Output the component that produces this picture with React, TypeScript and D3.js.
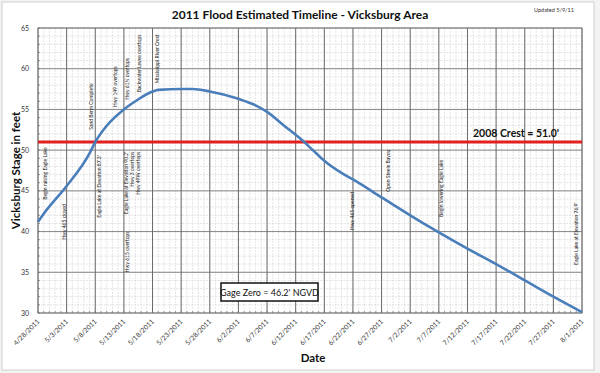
import React from "react";
import * as d3 from "d3";

const W = 600;
const H = 373;
const margin = { top: 28, right: 18, bottom: 60, left: 38 };

// x axis tick labels (every 5 days)
const tickLabels = [
  "4/28/2011", "5/3/2011", "5/8/2011", "5/13/2011", "5/18/2011", "5/23/2011",
  "5/28/2011", "6/2/2011", "6/7/2011", "6/12/2011", "6/17/2011", "6/22/2011",
  "6/27/2011", "7/2/2011", "7/7/2011", "7/12/2011", "7/17/2011", "7/22/2011",
  "7/27/2011", "8/1/2011",
];
const yTicks = [30, 35, 40, 45, 50, 55, 60, 65];

// estimated stage
const stageDates = [
  "4/28/2011", "4/29/2011", "5/3/2011", "5/7/2011", "5/8/2011",
  "5/10/2011", "5/13/2011", "5/15/2011", "5/18/2011", "5/19/2011", "5/23/2011",
  "5/25/2011", "5/28/2011", "6/2/2011", "6/5/2011", "6/7/2011", "6/10/2011",
  "6/13/2011", "6/15/2011", "6/17/2011", "6/20/2011", "6/22/2011", "6/27/2011",
  "7/2/2011", "7/7/2011", "7/12/2011", "7/17/2011", "7/22/2011", "7/27/2011",
  "8/1/2011",
];
const stageFeet = [
  41.2, 42.2, 45.6, 49.6, 51.0,
  53.0, 55.0, 56.0, 57.2, 57.4, 57.5,
  57.5, 57.2, 56.3, 55.5, 54.7, 53.0,
  51.3, 50.0, 48.7, 47.2, 46.4, 44.2,
  42.0, 39.9, 37.9, 36.0, 34.0, 32.0,
  30.1,
];

const crest2008 = 51.0;

// notes: days after 4/28, stage where the text starts (or ends)
const noteText = [
  "Begin raising Eagle Lake", "Hwy 465 closed", "Sand Berm Complete",
  "Eagle Lake at Elevation 87.3'", "Hwy 149 overtops", "Hwy 61N overtops",
  "Backwater Levee overtops", "Mississippi River Crest",
  "Eagle Lake at Elevation 90.2'", "Hwy 3 overtops", "Hwy 49W overtops",
  "Hwy 615 overtops", "Hwy 465 opened", "Open Steele Bayou",
  "Begin lowering Eagle Lake", "Eagle Lake at Elevation 76.9'",
];
const noteDay = [1.66, 4.97, 9.67, 11.07, 13.86, 15.95, 18.04, 21.18, 15.77, 16.82, 17.87, 15.95, 55.17, 61.44, 70.68, 94.4];
const noteStage = [43.9, 39.0, 52.5, 41.7, 55.3, 56.2, 57.1, 58.2, 49.8, 49.8, 49.8, 35.0, 40.2, 44.9, 41.8, 35.9];
const noteFromTop = [false, false, false, false, false, false, false, false, true, true, true, false, false, false, false, false];

const parse = d3.timeParse("%m/%d/%Y");
const font = "Lato, 'Open Sans', sans-serif";

export default function App() {
  const x0 = margin.left;
  const x1 = W - margin.right;
  const y0 = H - margin.bottom;
  const y1 = margin.top;

  const start = parse(tickLabels[0]) as Date;
  const end = parse(tickLabels[tickLabels.length - 1]) as Date;
  const x = d3.scaleTime().domain([start, end]).range([x0, x1]);
  const y = d3.scaleLinear().domain([30, 65]).range([y0, y1]);

  const days = d3.timeDay.range(start, d3.timeDay.offset(end, 1));
  const minorY = d3.range(30, 65.01, 1);

  const pts = stageDates.map((d, i) => [x(parse(d) as Date), y(stageFeet[i])] as [number, number]);
  const line = d3.line().curve(d3.curveMonotoneX)(pts) || "";

  return (
    <svg width={W} height={H} style={{ position: "absolute", left: 0, top: 0, background: "#f3f3f3" }}>
      <rect x={2} y={2} width={592} height={368} fill="#fff" stroke="#cfcfcf" />
      <text x={300} y={19} textAnchor="middle" fontFamily={font} fontWeight="bold" fontSize={12} fill="#111">
        2011 Flood Estimated Timeline - Vicksburg Area
      </text>
      <text x={554} y={12} textAnchor="middle" fontFamily={font} fontSize={5.5} fill="#333">Updated 5/9/11</text>

      {/* minor grid */}
      {days.map((d, i) => (
        <line key={"mv" + i} x1={x(d)} x2={x(d)} y1={y1} y2={y0} stroke="#d4d4d4" strokeWidth={0.6} strokeDasharray="2,1" />
      ))}
      {minorY.map((v) => (
        <line key={"mh" + v} x1={x0} x2={x1} y1={y(v)} y2={y(v)} stroke="#d4d4d4" strokeWidth={0.6} strokeDasharray="2,1" />
      ))}
      {/* major grid */}
      {yTicks.map((v) => (
        <line key={"h" + v} x1={x0} x2={x1} y1={y(v)} y2={y(v)} stroke="#7a7a7a" strokeWidth={0.9} />
      ))}
      {tickLabels.map((t) => (
        <line key={"v" + t} x1={x(parse(t) as Date)} x2={x(parse(t) as Date)} y1={y1} y2={y0} stroke="#6a6a6a" strokeWidth={1} />
      ))}
      <rect x={x0} y={y1} width={x1 - x0} height={y0 - y1} fill="none" stroke="#808080" strokeWidth={0.8} />

      {/* minor ticks */}
      {days.map((d, i) => (
        <line key={"tx" + i} x1={x(d)} x2={x(d)} y1={y0} y2={y0 - 2} stroke="#666" strokeWidth={0.6} />
      ))}
      {minorY.map((v) => (
        <line key={"ty" + v} x1={x0} x2={x0 + 2} y1={y(v)} y2={y(v)} stroke="#666" strokeWidth={0.6} />
      ))}

      {/* axis labels */}
      {yTicks.map((v) => (
        <text key={"yl" + v} x={x0 - 9} y={y(v) + 2.5} textAnchor="end" fontFamily={font} fontSize={7} fill="#333">{v}</text>
      ))}
      {tickLabels.map((t) => (
        <text key={"xl" + t} transform={`translate(${x(parse(t) as Date) + 2},${y0 + 9}) rotate(-45)`} textAnchor="end" fontFamily={font} fontSize={6.8} fill="#333">{t}</text>
      ))}
      <text transform={`translate(20,${(y0 + y1) / 2}) rotate(-90)`} textAnchor="middle" fontFamily={font} fontWeight="bold" fontSize={11.5} fill="#111">Vicksburg Stage in feet</text>
      <text x={313} y={362} textAnchor="middle" fontFamily={font} fontWeight="bold" fontSize={11.5} fill="#111">Date</text>

      {/* notes */}
      {noteText.map((t, i) => (
        <text key={"n" + i} transform={`translate(${x(d3.timeHour.offset(start, noteDay[i] * 24))},${y(noteStage[i])}) rotate(-90)`} textAnchor={noteFromTop[i] ? "end" : "start"} fontFamily={font} fontSize={5} fill="#222">{t}</text>
      ))}

      {/* 2008 crest */}
      <line x1={x0} x2={x1} y1={y(crest2008)} y2={y(crest2008)} stroke="#e3201f" strokeWidth={3} />
      <text x={516} y={y(crest2008) - 5} textAnchor="middle" fontFamily={font} fontWeight="bold" fontSize={10.5} fill="#111">2008 Crest = 51.0'</text>

      {/* stage */}
      <path d={line} fill="none" stroke="#4a7ebb" strokeWidth={2.6} />

      <rect x={221} y={283} width={97} height={18} fill="#fff" stroke="#111" strokeWidth={1.5} />
      <text x={269.5} y={295.5} textAnchor="middle" fontFamily={font} fontSize={9} fill="#111">Gage Zero = 46.2' NGVD</text>
    </svg>
  );
}
